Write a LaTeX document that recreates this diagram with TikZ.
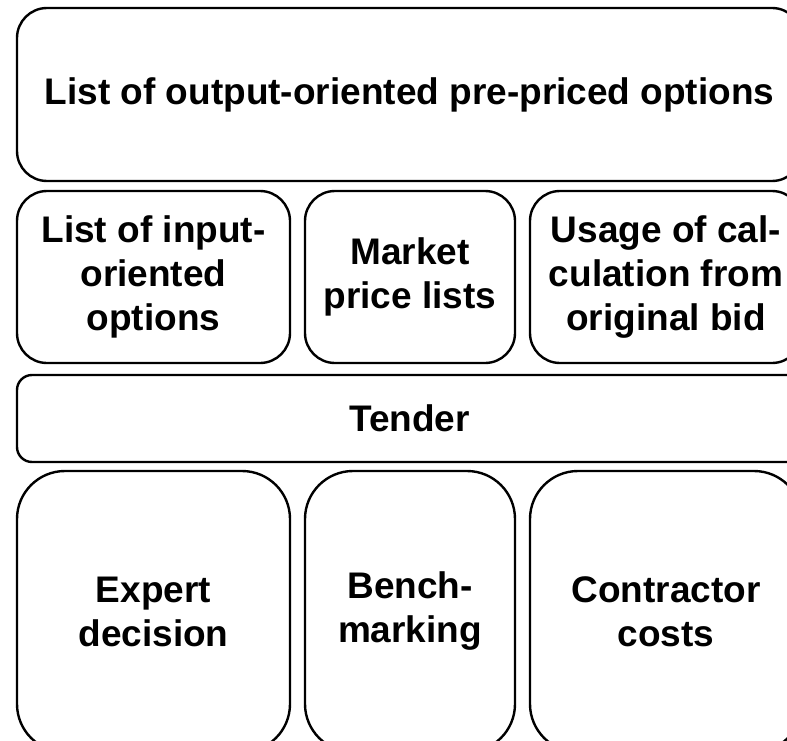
\documentclass[tikz,border=0pt]{standalone}
\usepackage{fontspec}
\setmainfont{Liberation Sans}
\begin{document}
\begin{tikzpicture}[x=1pt,y=-1pt,
  box/.style={draw=black, line width=2.4pt, fill=white, align=center,
    inner sep=0pt, font=\bfseries\fontsize{37}{44}\selectfont},
  bigbox/.style={box, rounded corners=30pt},
  bandbox/.style={box, rounded corners=15pt},
  tallbox/.style={box, rounded corners=48pt}]
  \useasboundingbox (0,0) rectangle (787,741);
  \clip (0,0) rectangle (787,741);
  % top layer
  \node[bigbox, minimum width=785pt, minimum height=173pt] (output) at (409.5,94.5)
    {List of output-oriented pre-priced options};
  % second layer
  \node[bigbox, minimum width=273pt, minimum height=172pt] (input) at (153.5,277)
    {List of input-\\oriented\\options};
  \node[bigbox, minimum width=210pt, minimum height=172pt] (market) at (410,277)
    {Market\\price lists};
  \node[bigbox, minimum width=272pt, minimum height=172pt] (usage) at (666,277)
    {Usage of cal-\\culation from\\original bid};
  % tender band
  \node[bandbox, minimum width=785pt, minimum height=87pt] (tender) at (409.5,418.5)
    {Tender};
  % bottom layer
  \node[tallbox, minimum width=273pt, minimum height=281pt] (expert) at (153.5,611.5)
    {Expert\\decision};
  \node[tallbox, minimum width=210pt, minimum height=281pt] (bench) at (410,611.5)
    {Bench-\\marking};
  \node[tallbox, minimum width=272pt, minimum height=281pt] (contractor) at (666,611.5)
    {Contractor\\costs};
\end{tikzpicture}
\end{document}
